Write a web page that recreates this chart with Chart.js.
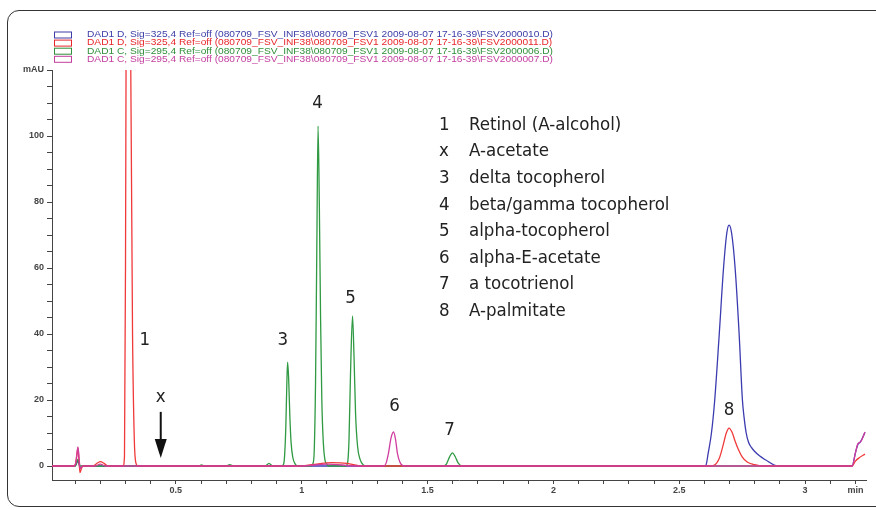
<!DOCTYPE html>
<html>
<head>
<meta charset="utf-8">
<script src="https://cdn.jsdelivr.net/npm/chart.js@4.4.1/dist/chart.umd.min.js"></script>
<style>
  html, body { margin: 0; padding: 0; background: #fff; overflow: hidden; }
  #wrap { position: relative; width: 876px; height: 510px; }
  #frame { position: absolute; left: 7px; top: 10px; width: 890px; height: 497px;
           border: 1.5px solid #333; border-radius: 12px; box-sizing: border-box; }
  canvas { position: absolute; left: 0; top: 0; }
</style>
</head>
<body>
<div id="wrap">
  <div id="frame"></div>
  <canvas id="chart" width="876" height="510"></canvas>
</div>
<script>
// Chromatogram traces, [time (min), signal (mAU)]
const seriesNames = [
  'DAD1 D, Sig=325,4 Ref=off (080709_FSV_INF38\\080709_FSV1 2009-08-07 17-16-39\\FSV2000010.D)',
  'DAD1 D, Sig=325,4 Ref=off (080709_FSV_INF38\\080709_FSV1 2009-08-07 17-16-39\\FSV2000011.D)',
  'DAD1 C, Sig=295,4 Ref=off (080709_FSV_INF38\\080709_FSV1 2009-08-07 17-16-39\\FSV2000006.D)',
  'DAD1 C, Sig=295,4 Ref=off (080709_FSV_INF38\\080709_FSV1 2009-08-07 17-16-39\\FSV2000007.D)'
];
const seriesColors = ['#3b3bb0', '#f03a3a', '#2f9a42', '#d13c9f'];
const legendColors = ['#3d3da8', '#e8262b', '#2f8f3a', '#c43ea0'];

const blueTrace = [
  [0.008, 0], [0.1, 0], [0.111, 1.5], [0.12, -0.5], [0.13, 0], [2.6, 0],
  [2.606, 0.2], [2.615, 3.9], [2.628, 10], [2.641, 20], [2.659, 40], [2.676, 60],
  [2.689, 70.6], [2.698, 73], [2.708, 70.6], [2.722, 60], [2.738, 40], [2.751, 20],
  [2.758, 14.5], [2.766, 10], [2.775, 7.3], [2.786, 5.7], [2.8, 4.4], [2.82, 3],
  [2.844, 1.8], [2.877, 0.3], [2.9, 0], [3.187, 0],
  [3.2, 4], [3.21, 6.6], [3.22, 7.3], [3.238, 10.2]
];
const redTrace = [
  [0.008, 0], [0.09, 0], [0.1, 0.3], [0.106, 3], [0.111, 5.5], [0.115, 2],
  [0.119, -2], [0.124, -1], [0.13, 0], [0.17, 0], [0.19, 1], [0.2, 1.3],
  [0.215, 0.8], [0.23, 0], [0.29, 0], [0.296, 3], [0.3, 60], [0.305, 200],
  [0.311, 300], [0.317, 200], [0.321, 120], [0.328, 40], [0.335, 8], [0.341, 1],
  [0.35, 0], [0.98, 0], [1.05, 0.5], [1.12, 1.0], [1.18, 0.8], [1.24, 0],
  [2.62, 0], [2.64, 0.3], [2.66, 2.5], [2.675, 6.5], [2.687, 10], [2.698, 11.5],
  [2.71, 10.2], [2.722, 7.5], [2.735, 5], [2.75, 2.8], [2.77, 1.2], [2.8, 0.4],
  [2.83, 0], [3.187, 0], [3.2, 1.5], [3.215, 2.5], [3.238, 3.6]
];
const greenTrace = [
  [0.008, 0], [0.1, 0], [0.111, 2], [0.12, 0], [0.59, 0], [0.602, 0.3], [0.615, 0],
  [0.7, 0], [0.714, 0.4], [0.73, 0], [0.855, 0], [0.87, 0.8], [0.885, 0],
  [0.92, 0], [0.928, 0.5], [0.932, 3], [0.937, 12], [0.941, 25], [0.944, 31.5],
  [0.948, 27], [0.953, 15], [0.958, 7], [0.965, 2.5], [0.975, 0.5], [0.985, 0],
  [1.035, 0], [1.045, 0.8], [1.05, 5], [1.055, 25], [1.06, 65], [1.065, 103],
  [1.07, 80], [1.075, 45], [1.08, 20], [1.086, 7], [1.092, 2], [1.1, 0.5], [1.11, 0],
  [1.175, 0], [1.182, 0.8], [1.188, 8], [1.194, 28], [1.202, 45.5], [1.208, 33],
  [1.214, 16], [1.222, 6], [1.232, 2], [1.245, 0.3], [1.26, 0],
  [1.56, 0], [1.575, 0.6], [1.587, 2.7], [1.599, 4], [1.61, 2.8], [1.622, 0.9],
  [1.638, 0], [3.185, 0]
];
const magentaTrace = [
  [0.008, 0], [0.095, 0], [0.104, 1.5], [0.111, 5.8], [0.116, 2], [0.12, -0.8],
  [0.13, 0], [0.18, 0], [0.2, 0.6], [0.22, 0], [1.0, 0], [1.1, 0.6], [1.22, 0],
  [1.325, 0], [1.335, 0.8], [1.345, 4], [1.355, 8.5], [1.365, 10.3], [1.373, 8],
  [1.38, 4], [1.39, 1.2], [1.405, 0], [3.187, 0], [3.2, 4], [3.21, 6.8],
  [3.22, 7.3], [3.238, 10.3]
];
const traces = [blueTrace, redTrace, greenTrace, magentaTrace];

// Peak labels drawn on the plot: [label, time, mAU]
const peakTags = [
  ['1', 0.377, 38], ['x', 0.44, 21], ['3', 0.925, 38], ['4', 1.063, 110],
  ['5', 1.194, 51], ['6', 1.369, 18], ['7', 1.587, 11], ['8', 2.698, 17]
];
const peakIds = ['1', 'x', '3', '4', '5', '6', '7', '8'];
const peakNames = [
  'Retinol (A-alcohol)', 'A-acetate', 'delta tocopherol', 'beta/gamma tocopherol',
  'alpha-tocopherol', 'alpha-E-acetate', 'a tocotrienol', 'A-palmitate'
];

const narrow = "'Liberation Sans Narrow', 'DejaVu Sans Condensed', sans-serif";
const tickFont = { family: "'Liberation Sans', Arial, sans-serif", size: 9, weight: 'bold' };

const overlay = {
  id: 'overlay',
  afterDraw(chart) {
    const ctx = chart.ctx;
    const x = chart.scales.x, y = chart.scales.y;
    ctx.save();

    // instrument legend (text stretched to the width of the original)
    ctx.font = "8.6px 'Liberation Sans', Arial, sans-serif";
    ctx.textBaseline = 'middle';
    const stretch = 466 / ctx.measureText(seriesNames[0]).width;
    seriesNames.forEach((name, i) => {
      const cy = 35 + i * 8.1;
      ctx.strokeStyle = legendColors[i];
      ctx.lineWidth = 1;
      ctx.strokeRect(54.5, cy - 3, 17, 6);
      ctx.fillStyle = legendColors[i];
      ctx.save();
      ctx.translate(87, cy);
      ctx.scale(stretch, 1);
      ctx.fillText(name, 0, 0);
      ctx.restore();
    });

    // peak numbers
    ctx.fillStyle = '#222';
    ctx.font = '18.5px ' + narrow;
    ctx.textAlign = 'center';
    peakTags.forEach(([t, px, py]) => {
      ctx.fillText(t, x.getPixelForValue(px), y.getPixelForValue(py));
    });

    // arrow at A-acetate
    const ax = x.getPixelForValue(0.44);
    const top = y.getPixelForValue(16.4), tip = y.getPixelForValue(2.4);
    ctx.strokeStyle = '#111';
    ctx.lineWidth = 2;
    ctx.beginPath();
    ctx.moveTo(ax, top);
    ctx.lineTo(ax, tip - 12);
    ctx.stroke();
    ctx.fillStyle = '#111';
    ctx.beginPath();
    ctx.moveTo(ax - 6, tip - 19);
    ctx.lineTo(ax + 6, tip - 19);
    ctx.lineTo(ax, tip);
    ctx.closePath();
    ctx.fill();

    // peak table
    ctx.fillStyle = '#222';
    ctx.textAlign = 'left';
    peakNames.forEach((name, i) => {
      const cy = 125 + i * 26.6;
      ctx.fillText(peakIds[i], 439, cy);
      ctx.fillText(name, 469, cy);
    });
    ctx.restore();
  }
};

new Chart(document.getElementById('chart'), {
  type: 'line',
  data: {
    datasets: traces.map((tr, i) => ({
      label: seriesNames[i],
      data: tr.map(([t, v]) => ({ x: t, y: v })),
      borderColor: seriesColors[i],
      borderWidth: 1.3,
      pointRadius: 0,
      cubicInterpolationMode: 'monotone',
      order: [3, 1, 2, 0][i]
    }))
  },
  options: {
    responsive: false,
    animation: false,
    events: [],
    layout: { padding: { top: 70, right: 10, left: 0, bottom: 0 } },
    plugins: { legend: { display: false }, tooltip: { enabled: false } },
    scales: {
      x: {
        type: 'linear',
        min: 0.008,
        max: 3.242,
        afterFit(s) { s.height = 30; },
        border: { display: true, color: '#444', width: 1 },
        grid: { drawOnChartArea: false, drawTicks: true, tickLength: 4, tickColor: '#444' },
        ticks: {
          stepSize: 0.1,
          includeBounds: false,
          autoSkip: false,
          maxRotation: 0,
          padding: 1,
          color: '#444',
          font: tickFont,
          callback(v) {
            const k = Math.round(v * 10);
            if (k === 32) return 'min';
            return k % 5 === 0 ? String(k / 10) : '';
          }
        }
      },
      y: {
        min: -4.24,
        max: 120,
        afterFit(s) { s.width = 52; },
        border: { display: true, color: '#444', width: 1 },
        grid: { drawOnChartArea: false, drawTicks: true, tickLength: 5, tickColor: '#444' },
        ticks: {
          stepSize: 5,
          includeBounds: false,
          autoSkip: false,
          padding: 3,
          color: '#444',
          font: tickFont,
          callback(v) {
            if (v === 120) return 'mAU';
            return v % 20 === 0 ? String(v) : '';
          }
        }
      }
    }
  },
  plugins: [overlay]
});
</script>
</body>
</html>
